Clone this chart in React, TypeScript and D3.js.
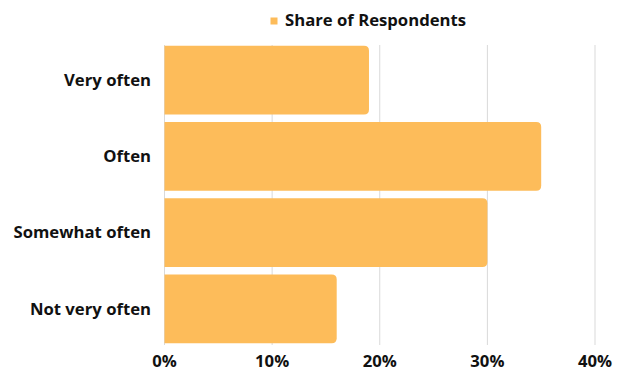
import React from "react";
import * as d3 from "d3";

const categories = ["Very often", "Often", "Somewhat often", "Not very often"];
const shareValues = [19, 35, 30, 16];
const tickValues = [0, 10, 20, 30, 40];
const seriesName = "Share of Respondents";

const W = 621;
const H = 371;
const color = "#FDBC5A";
const font = "'Open Sans', 'Noto Sans', sans-serif";
const fs = 16.7;

function barPath(x0: number, y: number, w: number, h: number, r: number) {
  const rr = Math.min(r, w, h / 2);
  return `M${x0},${y}H${x0 + w - rr}Q${x0 + w},${y} ${x0 + w},${y + rr}V${y + h - rr}Q${x0 + w},${y + h} ${x0 + w - rr},${y + h}H${x0}Z`;
}

export default function App() {
  const x = d3.scaleLinear().domain([0, 40]).range([164.5, 595]);
  const y = d3.scaleBand<string>().domain(categories).range([42, 347]).paddingInner(0.1).paddingOuter(0.05);
  return (
    <svg width={W} height={H} style={{ position: "absolute", left: 0, top: 0 }} fontFamily={font}>
      <rect width={W} height={H} fill="#fff" />
      {tickValues.map((t) => (
        <line key={t} x1={x(t)} x2={x(t)} y1={45} y2={345} stroke="#d9d9d9" strokeWidth={1} />
      ))}
      {categories.map((c, i) => (
        <path key={c} d={barPath(x(0), y(c)!, x(shareValues[i]) - x(0), y.bandwidth(), 5)} fill={color} />
      ))}
      {categories.map((c) => (
        <text key={c} x={151} y={y(c)! + y.bandwidth() / 2} dy="0.35em" textAnchor="end" fontSize={fs} fontWeight="bold" fill="#111">
          {c}
        </text>
      ))}
      {tickValues.map((t) => (
        <text key={t} x={x(t)} y={361} dy="0.35em" textAnchor="middle" fontSize={fs} fontWeight="bold" fill="#111">
          {t + "%"}
        </text>
      ))}
      <rect x={270.5} y={17.5} width={7} height={7} fill={color} />
      <text x={285} y={20} dy="0.35em" fontSize={fs} fontWeight="bold" fill="#111">
        {seriesName}
      </text>
    </svg>
  );
}
